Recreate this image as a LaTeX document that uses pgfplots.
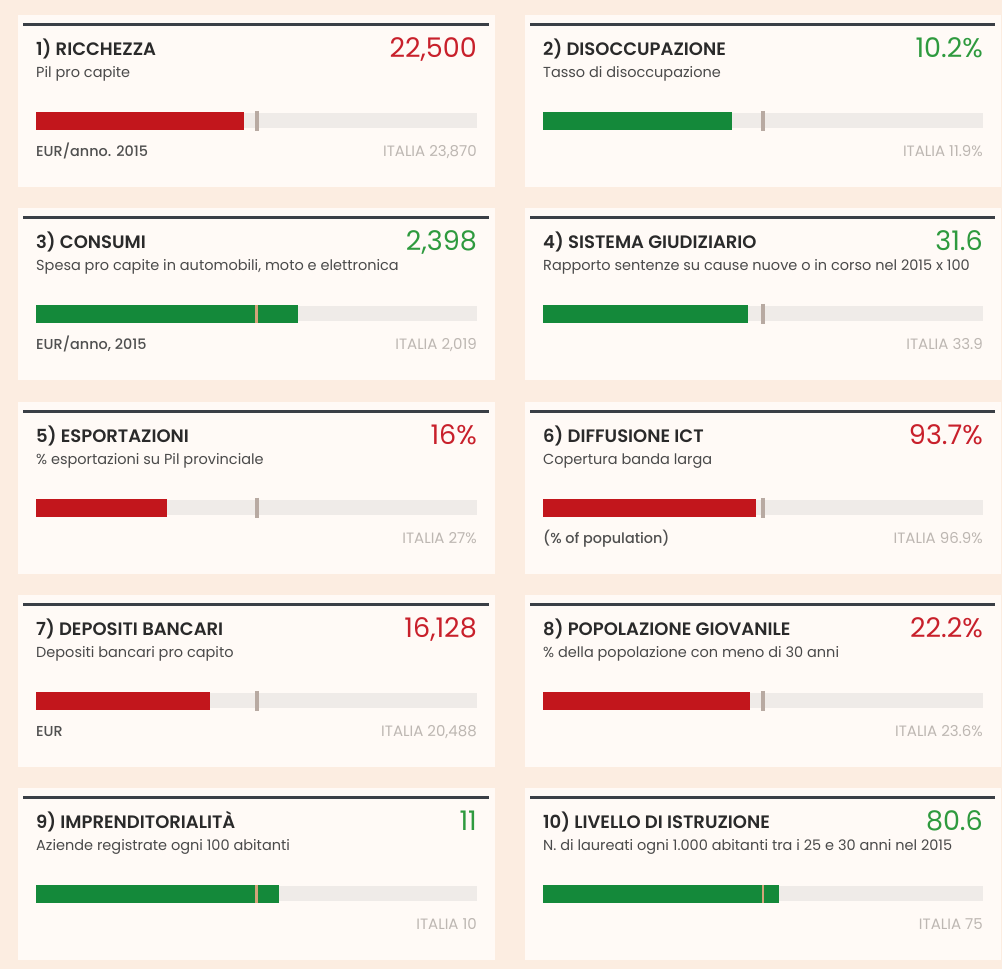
\documentclass[border=0pt]{standalone}
\usepackage{pgfplots}
\pgfplotsset{compat=1.18}
\usepackage{fontspec}
\setmainfont{Poppins}
\newfontfamily\semib{Poppins}[UprightFont=* SemiBold]
\newfontfamily\medi{Poppins}[UprightFont=* Medium]
\definecolor{bgcol}{HTML}{FCEDE1}
\definecolor{panelcol}{HTML}{FFFAF6}
\definecolor{rulecol}{HTML}{3A3F46}
\definecolor{titlecol}{HTML}{2A2A2A}
\definecolor{subcol}{HTML}{4A4A4A}
\definecolor{unitcol}{HTML}{505050}
\definecolor{italcol}{HTML}{BDB7B2}
\definecolor{redbar}{HTML}{C2161C}
\definecolor{greenbar}{HTML}{14893A}
\definecolor{redtxt}{HTML}{C8202B}
\definecolor{greentxt}{HTML}{2E9A3E}
\definecolor{trackcol}{HTML}{EFEBE8}
\definecolor{markcol}{HTML}{B8AAA2}
\definecolor{markon}{HTML}{D2A47A}
\newcommand\titlefont{\semib\fontsize{18}{20}\selectfont}
\newcommand\valuefont{\fontsize{27}{30}\selectfont}
\newcommand\subfont{\fontsize{14.5}{16}\selectfont}
\newcommand\unitfont{\medi\fontsize{14.4}{16}\selectfont}
\newcommand\italfont{\fontsize{15}{16}\selectfont}
% #1 left x, #2 right x, #3 rule y, #4 title, #5 value, #6 colour, #7 subtitle, #8 unit, #9 italia
\newcommand\paneltext[9]{%
  \fill[panelcol] ({#1-18},{#3+10}) rectangle ({#2+18},{#3-162});
  \draw[rulecol,line width=3pt] ({#1-13},#3) -- ({#2+12},#3);
  \node[anchor=base west,inner sep=0,text=titlecol,font=\titlefont] at (#1,{#3-31}) {#4};
  \node[anchor=base east,inner sep=0,text=#6,font=\valuefont] at (#2,{#3-33}) {#5};
  \node[anchor=base west,inner sep=0,text=subcol,font=\subfont] at (#1,{#3-53}) {#7};
  \node[anchor=base west,inner sep=0,text=unitcol,font=\unitfont] at (#1,{#3-132}) {#8};
  \node[anchor=base east,inner sep=0,text=italcol,font=\italfont] at (#2,{#3-132}) {#9};
}
\pgfplotsset{kpi/.style={scale only axis, width=441pt, height=20pt, xmin=0, ymin=0, ymax=1,
  hide axis, clip=false, anchor=west},
  kpir/.style={kpi, width=440pt},
  track/.style={xbar, bar shift=0pt, bar width=15pt, fill=trackcol, draw=none},
  valbar/.style={xbar, bar shift=0pt, bar width=18pt, fill=#1, draw=none},
  itmark/.style={only marks, mark=|, mark size=10pt, mark options={line width=4pt, draw=markcol}},
  itmarkon/.style={only marks, mark=|, mark size=9pt, mark options={line width=2.5pt, draw=markon}}}
\begin{document}
\begin{tikzpicture}[x=1pt,y=1pt]
\path[use as bounding box, fill=bgcol] (0,0) rectangle (1002,969);
% row 1
\paneltext{36}{477}{944}{1) RICCHEZZA}{22,500}{redtxt}{Pil pro capite}{EUR/anno. 2015}{ITALIA 23,870}
\paneltext{543}{983}{944}{2) DISOCCUPAZIONE}{10.2\%}{greentxt}{Tasso di disoccupazione}{}{ITALIA 11.9\%}
% row 2
\paneltext{36}{477}{751}{3) CONSUMI}{2,398}{greentxt}{Spesa pro capite in automobili, moto e elettronica}{EUR/anno, 2015}{ITALIA 2,019}
\paneltext{543}{983}{751}{4) SISTEMA GIUDIZIARIO}{31.6}{greentxt}{Rapporto sentenze su cause nuove o in corso nel 2015 x 100}{}{ITALIA 33.9}
% row 3
\paneltext{36}{477}{557}{5) ESPORTAZIONI}{16\%}{redtxt}{\% esportazioni su Pil provinciale}{}{ITALIA 27\%}
\paneltext{543}{983}{557}{6) DIFFUSIONE ICT}{93.7\%}{redtxt}{Copertura banda larga}{(\% of population)}{ITALIA 96.9\%}
% row 4
\paneltext{36}{477}{364}{7) DEPOSITI BANCARI}{16,128}{redtxt}{Depositi bancari pro capito}{EUR}{ITALIA 20,488}
\paneltext{543}{983}{364}{8) POPOLAZIONE GIOVANILE}{22.2\%}{redtxt}{\% della popolazione con meno di 30 anni}{}{ITALIA 23.6\%}
% row 5
\paneltext{36}{477}{171}{9) IMPRENDITORIALITÀ}{11}{greentxt}{Aziende registrate ogni 100 abitanti}{}{ITALIA 10}
\paneltext{543}{983}{171}{10) LIVELLO DI ISTRUZIONE}{80.6}{greentxt}{N. di laureati ogni 1.000 abitanti tra i 25 e 30 anni nel 2015}{}{ITALIA 75}

% 1 Ricchezza
\begin{axis}[kpi, at={(36pt,848pt)}, xmax=47740]
\addplot[track] coordinates {(47740,0.5)};
\addplot[valbar=redbar] coordinates {(22500,0.5)};
\addplot[itmark] coordinates {(23870,0.5)};
\end{axis}
% 2 Disoccupazione
\begin{axis}[kpir, at={(543pt,848pt)}, xmax=23.8]
\addplot[track] coordinates {(23.8,0.5)};
\addplot[valbar=greenbar] coordinates {(10.2,0.5)};
\addplot[itmark] coordinates {(11.9,0.5)};
\end{axis}
% 3 Consumi
\begin{axis}[kpi, at={(36pt,655pt)}, xmax=4038]
\addplot[track] coordinates {(4038,0.5)};
\addplot[valbar=greenbar] coordinates {(2398,0.5)};
\addplot[itmarkon] coordinates {(2019,0.5)};
\end{axis}
% 4 Giudiziario
\begin{axis}[kpir, at={(543pt,655pt)}, xmax=67.8]
\addplot[track] coordinates {(67.8,0.5)};
\addplot[valbar=greenbar] coordinates {(31.6,0.5)};
\addplot[itmark] coordinates {(33.9,0.5)};
\end{axis}
% 5 Esportazioni
\begin{axis}[kpi, at={(36pt,461pt)}, xmax=54]
\addplot[track] coordinates {(54,0.5)};
\addplot[valbar=redbar] coordinates {(16,0.5)};
\addplot[itmark] coordinates {(27,0.5)};
\end{axis}
% 6 ICT
\begin{axis}[kpir, at={(543pt,461pt)}, xmax=193.8]
\addplot[track] coordinates {(193.8,0.5)};
\addplot[valbar=redbar] coordinates {(93.7,0.5)};
\addplot[itmark] coordinates {(96.9,0.5)};
\end{axis}
% 7 Depositi
\begin{axis}[kpi, at={(36pt,268pt)}, xmax=40976]
\addplot[track] coordinates {(40976,0.5)};
\addplot[valbar=redbar] coordinates {(16128,0.5)};
\addplot[itmark] coordinates {(20488,0.5)};
\end{axis}
% 8 Giovanile
\begin{axis}[kpir, at={(543pt,268pt)}, xmax=47.2]
\addplot[track] coordinates {(47.2,0.5)};
\addplot[valbar=redbar] coordinates {(22.2,0.5)};
\addplot[itmark] coordinates {(23.6,0.5)};
\end{axis}
% 9 Imprenditorialita
\begin{axis}[kpi, at={(36pt,75pt)}, xmax=20]
\addplot[track] coordinates {(20,0.5)};
\addplot[valbar=greenbar] coordinates {(11,0.5)};
\addplot[itmarkon] coordinates {(10,0.5)};
\end{axis}
% 10 Istruzione
\begin{axis}[kpir, at={(543pt,75pt)}, xmax=150]
\addplot[track] coordinates {(150,0.5)};
\addplot[valbar=greenbar] coordinates {(80.6,0.5)};
\addplot[itmarkon] coordinates {(75,0.5)};
\end{axis}
\end{tikzpicture}
\end{document}
